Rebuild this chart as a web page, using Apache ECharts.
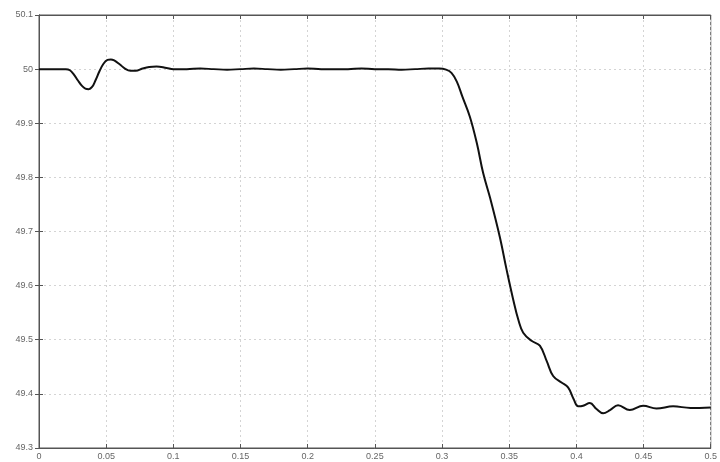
<!DOCTYPE html>
<html><head><meta charset="utf-8">
<script src="https://cdn.jsdelivr.net/npm/echarts@6/dist/echarts.min.js"></script>
<style>html,body{margin:0;padding:0;background:#fff}#c{width:720px;height:462px}</style>
</head><body><div id="c"></div>
<script>
const times = [0,0.02,0.023,0.026,0.029,0.032,0.0345,0.037,0.0395,0.042,0.045,0.048,0.051,0.0535,0.056,0.06,0.064,0.068,0.072,0.077,0.082,0.0875,0.095,0.1,0.11,0.12,0.13,0.14,0.15,0.16,0.17,0.18,0.19,0.2,0.21,0.22,0.23,0.24,0.25,0.26,0.27,0.28,0.29,0.298,0.303,0.307,0.311,0.315,0.3207,0.326,0.3306,0.336,0.343,0.348,0.3529,0.357,0.3604,0.3666,0.3728,0.378,0.3827,0.3889,0.3938,0.398,0.4013,0.405,0.41,0.415,0.4199,0.425,0.431,0.4397,0.4497,0.4596,0.472,0.485,0.5];
const freq = [50,50,49.998,49.99,49.979,49.969,49.964,49.963,49.967,49.979,49.996,50.01,50.017,50.018,50.016,50.009,50.001,49.997,49.997,50.001,50.004,50.005,50.002,50.0,50.0,50.001,50.0,49.999,50.0,50.001,50.0,49.999,50.0,50.001,50.0,50.0,50.0,50.001,50.0,50.0,49.999,50.0,50.001,50.001,49.999,49.993,49.977,49.95,49.912,49.862,49.808,49.76,49.69,49.63,49.575,49.535,49.513,49.498,49.489,49.46,49.433,49.421,49.412,49.39,49.377,49.378,49.383,49.372,49.364,49.37,49.379,49.370,49.378,49.373,49.377,49.374,49.375];
const xTicks = ['0','0.05','0.1','0.15','0.2','0.25','0.3','0.35','0.4','0.45','0.5'];
const yTicks = ['49.3','49.4','49.5','49.6','49.7','49.8','49.9','50','50.1'];

const pts = times.map((t,i)=>[t,freq[i]]);
const lab = {color:'#666', fontSize:9, fontFamily:'Liberation Sans'};
const chart = echarts.init(document.getElementById('c'));
chart.setOption({
  animation:false,
  grid:{left:39,right:9,top:15,bottom:14,show:true,borderColor:'#555',borderWidth:1,backgroundColor:'#fff'},
  xAxis:[{type:'value',min:0,max:0.5,interval:0.05,
    axisLine:{lineStyle:{color:'#555'}},
    axisTick:{inside:true,length:4,lineStyle:{color:'#555'}},
    axisLabel:Object.assign({margin:4,formatter:v=>xTicks[Math.round(v/0.05)]},lab),
    splitLine:{show:true,lineStyle:{color:'#d4d4d4',type:[2,3]}}},
    {type:'value',min:0,max:0.5,interval:0.05,position:'top',
    axisLine:{lineStyle:{color:'#555'}},axisTick:{inside:true,length:4,lineStyle:{color:'#555'}},
    axisLabel:{show:false},splitLine:{show:false}}],
  yAxis:[{type:'value',min:49.3,max:50.1,interval:0.1,
    axisLine:{lineStyle:{color:'#555'}},
    axisTick:{inside:true,length:4,lineStyle:{color:'#555'}},
    axisLabel:Object.assign({margin:6,formatter:v=>yTicks[Math.round((v-49.3)/0.1)]},lab),
    splitLine:{show:true,lineStyle:{color:'#d4d4d4',type:[2,3]}}},
    {type:'value',min:49.3,max:50.1,interval:0.1,position:'right',
    axisLine:{lineStyle:{color:'#555'}},axisTick:{inside:true,length:4,lineStyle:{color:'#555'}},
    axisLabel:{show:false},splitLine:{show:false}}],
  series:[{type:'line',data:pts,smooth:0.4,showSymbol:false,
    lineStyle:{color:'#111',width:2}}]
});
</script></body></html>
